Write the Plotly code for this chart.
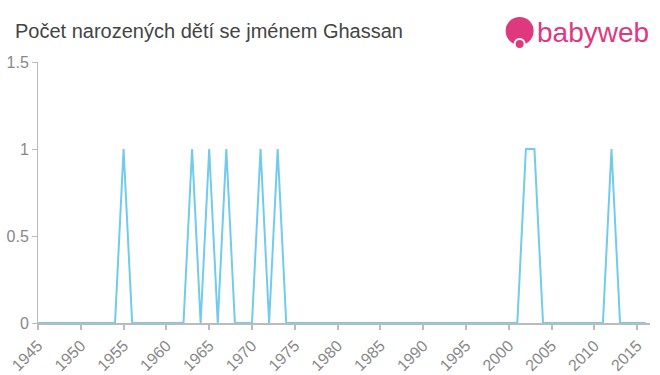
import plotly.graph_objects as go

years = list(range(1945, 2017))
ones = [1955, 1963, 1965, 1967, 1971, 1973, 2002, 2003, 2012]
counts = [1 if y in ones else 0 for y in years]
x_ticks = list(range(1945, 2016, 5))
y_ticks = [0, 0.5, 1, 1.5]
y_labels = ["0", "0.5", "1", "1.5"]

fig = go.Figure()
fig.add_trace(go.Scatter(x=years, y=counts, mode="lines",
                         line=dict(color="#72cbec", width=2), hoverinfo="skip"))

fig.update_layout(
    width=660, height=375,
    margin=dict(l=38, r=10, t=62, b=52, autoexpand=False),
    paper_bgcolor="white", plot_bgcolor="white",
    showlegend=False,
    font=dict(family="Liberation Sans, Arial, sans-serif", color="#777"),
)
fig.update_xaxes(range=[1945, 2016.5], tickvals=x_ticks, tickangle=-45, automargin=False,
                 showgrid=False, zeroline=False, showline=True, linecolor="#bbb", linewidth=2,
                 ticks="outside", ticklen=5, tickcolor="#bbb", tickwidth=2,
                 tickfont=dict(size=16, color="#888"))
fig.update_yaxes(range=[0, 1.5], tickvals=y_ticks, ticktext=y_labels, automargin=False,
                 showgrid=False, zeroline=False, showline=True, linecolor="#bbb", linewidth=1,
                 ticks="outside", ticklen=5, tickcolor="#bbb",
                 tickfont=dict(size=16, color="#888"))

fig.add_annotation(text="Počet narozených dětí se jménem Ghassan", xref="paper", yref="paper",
                   x=0, y=1, xshift=-25, yshift=31, xanchor="left", yanchor="middle", showarrow=False,
                   font=dict(size=20, color="#444"))
# logo
fig.add_shape(type="circle", xref="paper", yref="paper", xsizemode="pixel", ysizemode="pixel",
              xanchor=0.787, yanchor=1, x0=-14, x1=14, y0=17, y1=45,
              fillcolor="#e0387f", line=dict(width=0))
fig.add_shape(type="circle", xref="paper", yref="paper", xsizemode="pixel", ysizemode="pixel",
              xanchor=0.787, yanchor=1, x0=-5, x1=5, y0=13, y1=23,
              fillcolor="#e0387f", line=dict(width=2, color="white"))
fig.add_annotation(text="babyweb", xref="paper", yref="paper", x=0.8115, y=1, yshift=30,
                   xanchor="left", yanchor="middle", showarrow=False,
                   font=dict(size=28, color="#e0387f"))

fig.write_html("out.html")
